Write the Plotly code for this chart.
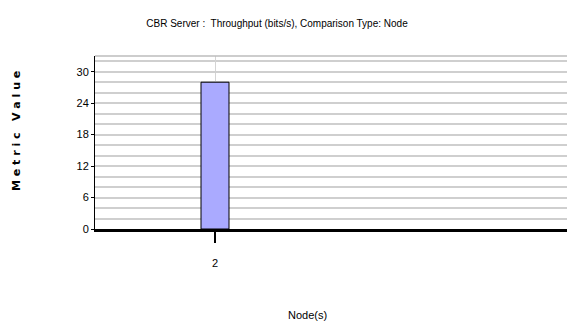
import plotly.graph_objects as go

nodes = [2]
throughput = [28]
y_ticks = [0, 6, 12, 18, 24, 30]

font_narrow = "Liberation Sans Narrow, Liberation Sans, Arial, sans-serif"

# the page body adds an 8px offset; lay out in target coordinates and compensate
OFF = 8
W, H = 575 - OFF, 325 - OFF
L, R, T, B = 95 - OFF, 0, 56 - OFF, 96
pw, ph = W - L - R, H - T - B


def px_x(x):
    return (x - OFF - L) / pw


def px_y(y):
    return (H - B - (y - OFF)) / ph


fig = go.Figure()
fig.add_trace(go.Bar(
    x=nodes, y=throughput, width=0.35,
    marker=dict(color="#aaaaff", line=dict(color="black", width=1)),
))

fig.update_layout(
    width=W, height=H,
    margin=dict(l=L, r=R, t=T, b=B, autoexpand=False),
    plot_bgcolor="white", paper_bgcolor="white",
    showlegend=False,
    title=dict(text="CBR Server :  Throughput (bits/s), Comparison Type: Node",
               x=(277 - OFF) / W, xanchor="center", y=1 - (23 - OFF) / H, yanchor="middle",
               font=dict(family=font_narrow, size=10, color="black")),
    xaxis=dict(range=[0.5, 6.5], tickvals=nodes, ticktext=[str(n) for n in nodes],
               showgrid=True, gridcolor="#d4d4d4", gridwidth=1,
               showline=True, linecolor="black", linewidth=3,
               ticks="outside", ticklen=11, tickcolor="black", tickwidth=1.5,
               ticklabelstandoff=11,
               tickfont=dict(family=font_narrow, size=11, color="black"),
               zeroline=False, automargin=False),
    yaxis=dict(range=[0, 33], tickvals=y_ticks,
               showgrid=True, gridcolor="#cfcfcf", gridwidth=1.5,
               minor=dict(dtick=2, tick0=0, showgrid=True, gridcolor="#cfcfcf", gridwidth=1.5),
               showline=True, linecolor="black", linewidth=1,
               ticks="outside", ticklen=3, tickcolor="black",
               tickfont=dict(family=font_narrow, size=11, color="black"),
               zeroline=False, automargin=False),
    shapes=[dict(type="line", xref="paper", yref="paper", x0=0, x1=1, y0=1, y1=1,
                 line=dict(color="#bdbdbd", width=1.5))],
    annotations=[
        dict(text="Node(s)", xref="paper", yref="paper",
             x=px_x(307), y=px_y(315),
             xanchor="center", yanchor="middle", showarrow=False,
             font=dict(family=font_narrow, size=11, color="black")),
        dict(text="M e t r i c   V a l u e", xref="paper", yref="paper",
             x=px_x(17), y=px_y(131),
             xanchor="center", yanchor="middle", showarrow=False, textangle=-90,
             font=dict(family="DejaVu Sans", size=11, color="black", weight="bold")),
    ],
)

fig.write_html("out.html")
